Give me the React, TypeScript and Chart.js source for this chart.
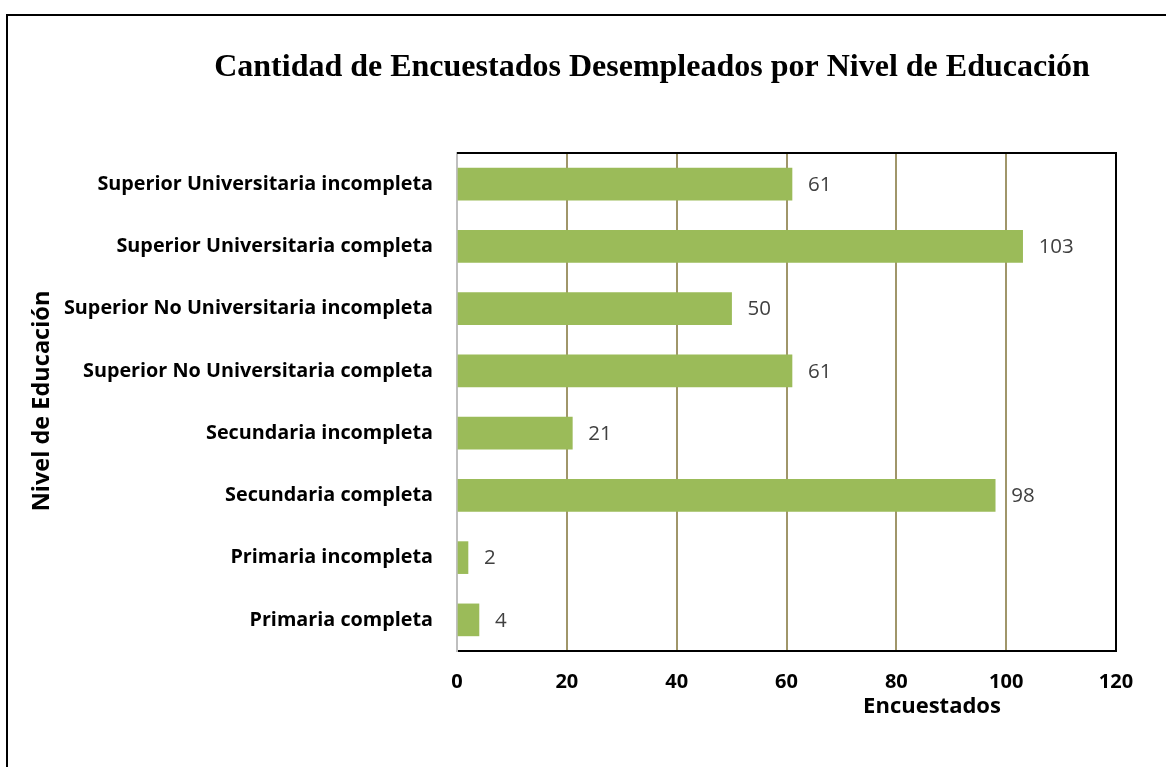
import React, { useEffect, useRef } from "react";
import { Chart, registerables } from "chart.js";

Chart.register(...registerables);

const titleText = "Cantidad de Encuestados Desempleados por Nivel de Educación";
const xTitle = "Encuestados";
const yTitle = "Nivel de Educación";

const categories = [
  "Superior Universitaria incompleta",
  "Superior Universitaria completa",
  "Superior No Universitaria incompleta",
  "Superior No Universitaria completa",
  "Secundaria incompleta",
  "Secundaria completa",
  "Primaria incompleta",
  "Primaria completa",
];

const encuestados = [61, 103, 50, 61, 21, 98, 2, 4];

const xTicks = [0, 20, 40, 60, 80, 100, 120];

const SANS = "'Open Sans', 'Noto Sans', sans-serif";

const overlayPlugin = {
  id: "overlay",
  afterDatasetsDraw(chart: any) {
    const ctx = chart.ctx;
    const meta = chart.getDatasetMeta(0);
    ctx.save();
    ctx.fillStyle = "#404040";
    ctx.font = `20.5px ${SANS}`;
    ctx.textAlign = "left";
    ctx.textBaseline = "middle";
    meta.data.forEach((bar: any, i: number) => {
      ctx.fillText(String(encuestados[i]), bar.x + 16, bar.y + 1);
    });
    ctx.restore();
  },
  afterDraw(chart: any) {
    const ctx = chart.ctx;
    const a = chart.chartArea;
    ctx.save();
    // top and right frame
    ctx.strokeStyle = "#000000";
    ctx.lineWidth = 2;
    ctx.beginPath();
    ctx.moveTo(a.left, a.top);
    ctx.lineTo(a.right, a.top);
    ctx.lineTo(a.right, a.bottom + 1);
    ctx.stroke();
    // chart title
    ctx.fillStyle = "#000000";
    ctx.textAlign = "center";
    ctx.textBaseline = "middle";
    ctx.font = "bold 32px 'Liberation Serif', 'Times New Roman', serif";
    ctx.fillText(titleText, 652, 68);
    // x axis title
    ctx.font = `bold 22px ${SANS}`;
    ctx.fillText(xTitle, 932, 707);
    // y axis title
    ctx.font = `bold 23.5px ${SANS}`;
    ctx.translate(42, 401);
    ctx.rotate(-Math.PI / 2);
    ctx.fillText(yTitle, 0, 0);
    ctx.restore();
  },
};

export default function App() {
  const ref = useRef<HTMLCanvasElement>(null);
  useEffect(() => {
    if (!ref.current) return;
    const chart = new Chart(ref.current, {
      type: "bar",
      data: {
        labels: categories,
        datasets: [
          {
            data: encuestados,
            backgroundColor: "#9BBB59",
            barThickness: 32,
          },
        ],
      },
      options: {
        indexAxis: "y",
        animation: false,
        responsive: false,
        maintainAspectRatio: false,
        layout: { padding: { top: 153, right: 50, bottom: 0, left: 0 } },
        plugins: {
          legend: { display: false },
          tooltip: { enabled: false },
          title: { display: false },
        },
        scales: {
          x: {
            min: 0,
            max: 120,
            afterBuildTicks: (scale: any) => {
              scale.ticks = xTicks.map((v) => ({ value: v }));
            },
            afterFit: (scale: any) => {
              scale.height = 116;
            },
            grid: {
              color: (c: any) =>
                c.tick && (c.tick.value === 0 || c.tick.value === 120)
                  ? "rgba(0,0,0,0)"
                  : "#A0966A",
              lineWidth: 2,
              drawTicks: false,
            },
            border: { display: true, color: "#000000", width: 2 },
            ticks: {
              color: "#000000",
              font: { family: SANS, size: 20, weight: "bold" },
              padding: 19,
              maxRotation: 0,
            },
          },
          y: {
            afterFit: (scale: any) => {
              scale.width = 457;
            },
            grid: { display: false, drawTicks: false },
            border: { display: true, color: "#BFBFBF", width: 2 },
            ticks: {
              color: "#000000",
              font: { family: SANS, size: 19.8, weight: "bold" },
              padding: 24,
              autoSkip: false,
            },
          },
        },
      },
      plugins: [overlayPlugin],
    });
    return () => chart.destroy();
  }, []);

  return (
    <div
      style={{
        position: "fixed",
        left: 0,
        top: 0,
        width: 1166,
        height: 767,
        overflow: "hidden",
        background: "#ffffff",
      }}
    >
      <div
        style={{
          position: "absolute",
          left: 6,
          top: 14,
          width: 1300,
          height: 900,
          border: "2px solid #000000",
          boxSizing: "border-box",
        }}
      />
      <canvas
        ref={ref}
        width={1166}
        height={767}
        style={{ position: "absolute", left: 0, top: 0, width: 1166, height: 767 }}
      />
    </div>
  );
}
